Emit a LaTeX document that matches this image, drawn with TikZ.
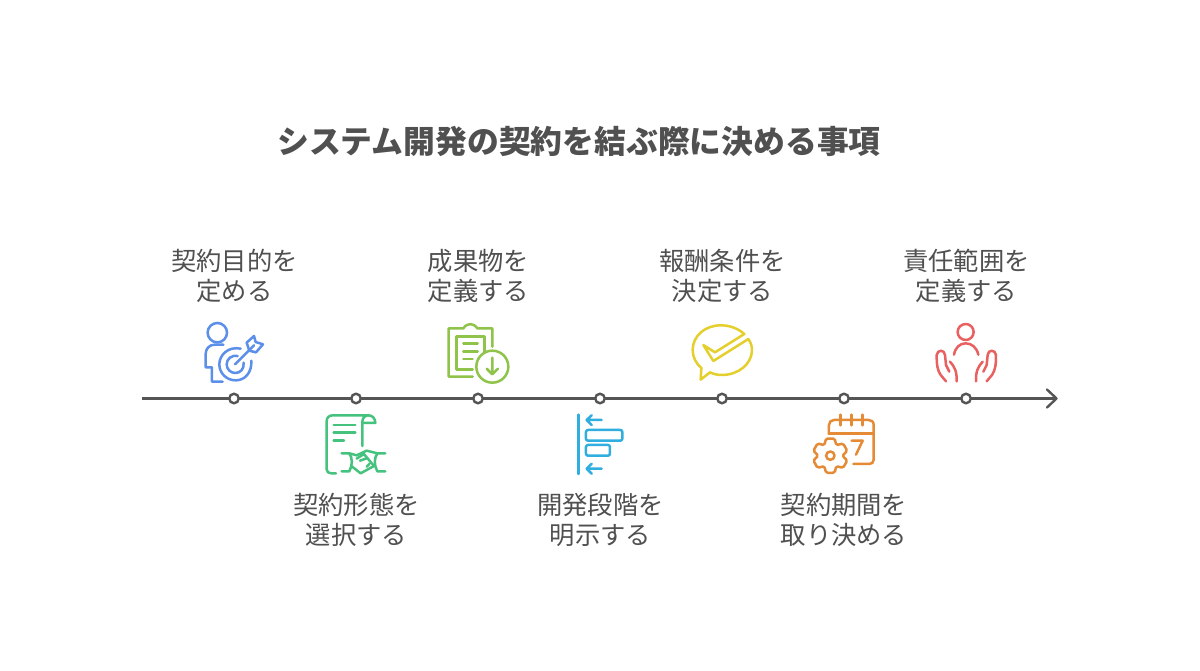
\documentclass[tikz,border=0pt]{standalone}
\usepackage{fontspec}
\newfontfamily\cjk{Noto Sans CJK JP}
\definecolor{txt}{HTML}{505050}
\definecolor{axis}{HTML}{555555}
\definecolor{cblue}{HTML}{5B8FEA}
\definecolor{cgreen}{HTML}{46C27F}
\definecolor{clime}{HTML}{8FC34A}
\definecolor{csky}{HTML}{2FAEDF}
\definecolor{cyel}{HTML}{E5CF2C}
\definecolor{corange}{HTML}{E58A35}
\definecolor{cred}{HTML}{E8605F}
\tikzset{
 lbl/.style={font=\cjk\fontsize{25.3}{30}\selectfont,text=txt,align=center,inner sep=0pt},
 ttl/.style={font=\cjk\bfseries\fontsize{31.8}{38}\selectfont,text=txt,inner sep=0pt},
 dot/.style={circle,draw=axis,fill=white,line width=2.4pt,minimum size=9.5pt,inner sep=0pt},
 axisline/.style={draw=axis,line width=2.4pt},
 ico/.style={line width=2.5pt,line cap=round,line join=round},
}
\begin{document}
\begin{tikzpicture}[x=1pt,y=-1pt]
\useasboundingbox[fill=white] (0,0) rectangle (1200,670);
\node[ttl] (title) at (579,141) {システム開発の契約を結ぶ際に決める事項};
\coordinate (start) at (142,398.5);
\coordinate (end) at (1056,398.5);
\draw[axisline] (start) -- (end);
\draw[axisline,line cap=round,line join=round] (1047,389.5) -- (1056.5,398.5) -- (1047,407.5);
\foreach \n/\x in {a/234,b/356,c/478,d/600,e/722,f/844,g/966}
  \node[dot] (\n) at (\x,398.5) {};
\node[lbl] (la) at (234.5,276) {契約目的を\\定める};
\node[lbl] (lc) at (478.5,276) {成果物を\\定義する};
\node[lbl] (le) at (722.5,276) {報酬条件を\\決定する};
\node[lbl] (lg) at (966.5,276) {責任範囲を\\定義する};
\node[lbl] (lb) at (356.5,520) {契約形態を\\選択する};
\node[lbl] (ld) at (600.5,520) {開発段階を\\明示する};
\node[lbl] (lf) at (844,520) {契約期間を\\取り決める};
% icon 1 : person with target
\begin{scope}[shift={(190,310)},x=0.3333pt,y=-0.3333pt,ico,draw=cblue]
\draw (82,68) circle[radius=9.7pt];
\draw (100,104) -- (74,104) .. controls (58,104) and (47,116) .. (47,132) -- (47,172) -- (66,172) -- (66,215) -- (98,215);
\draw (152,116) .. controls (115,108) and (88,135) .. (88,163) .. controls (88,190) and (110,211) .. (137,211) .. controls (165,211) and (186,188) .. (184,152);
\draw (143,138) .. controls (125,134) and (110,147) .. (110,163) .. controls (110,178) and (122,189) .. (136,189) .. controls (150,189) and (163,178) .. (161,158);
\draw (135,163) -- (192,106);
\draw (178,122) -- (170,98) -- (192,78) -- (197,96) -- (219,103) -- (198,127) -- (178,122);
% icon 2 : scroll with handshake
\draw[cgreen] (517,408) -- (517,336) .. controls (517,322) and (527,316) .. (535,316) -- (428,316) .. controls (416,316) and (410,324) .. (410,334) -- (410,478) .. controls (410,486) and (416,490) .. (424,490) -- (438,490);
\draw[cgreen] (535,316) .. controls (548,316) and (556,326) .. (556,339) -- (520,339);
\draw[cgreen] (431,345) -- (496,345) (431,368) -- (496,368) (431,391) -- (462,391);
\draw[cgreen] (455,430) -- (478,430) .. controls (488,445) and (488,465) .. (478,484) -- (455,484);
\draw[cgreen] (586,430) -- (562,430) .. controls (552,445) and (552,465) .. (562,484) -- (586,484);
\draw[cgreen] (478,430) -- (500,436) -- (530,422) -- (562,430);
\draw[cgreen] (484,468) -- (512,490) -- (552,468);
\draw[cgreen] (500,446) -- (522,432) -- (552,468) (510,452) -- (530,445) (530,470) -- (538,462);
\end{scope}
% icon 3 : clipboard with download ; icon 4 : aligned bars
\begin{scope}[shift={(430,310)},x=0.3333pt,y=-0.3333pt,ico]
\draw[clime] (187,110) -- (187,55) -- (142,55) .. controls (130,38) and (112,38) .. (100,55) -- (56,55) -- (56,200) -- (128,200);
\draw[clime] (163,125) -- (163,80) -- (80,80) -- (80,178) -- (128,178);
\draw[clime] (100,100) -- (143,100) (100,124) -- (143,124) (100,147) -- (128,147);
\draw[clime] (187,170) circle[radius=16pt];
\draw[clime] (187,143) -- (187,192) (170,176) -- (187,193) -- (204,176);
\draw[csky] (445,314) -- (445,492);
\draw[csky] (515,330) -- (470,330) (485,316) -- (470,330) -- (485,345);
\draw[csky,rounded corners=2pt] (468,360) rectangle (577,392);
\draw[csky,rounded corners=2pt] (468,405) rectangle (540,437);
\draw[csky] (515,476) -- (470,476) (485,461) -- (470,476) -- (485,491);
\end{scope}
% icon 5 : speech bubble ; icon 6 : gear and calendar
\begin{scope}[shift={(680,310)},x=0.3333pt,y=-0.3333pt,ico]
\draw[cyel] (193,72) .. controls (170,52) and (145,46) .. (122,46) .. controls (75,46) and (38,78) .. (38,120) .. controls (38,142) and (48,160) .. (64,174) -- (62,209) -- (90,187) .. controls (100,192) and (112,195) .. (125,195) .. controls (175,195) and (216,162) .. (216,120) .. controls (216,108) and (212,97) .. (205,87);
\draw[cyel] (70,105) -- (105,127) -- (193,72) (70,105) -- (100,153) -- (205,87);
\draw[corange] (520,462) -- (568,462) .. controls (576,462) and (581,457) .. (581,449) -- (581,345) .. controls (581,335) and (575,330) .. (566,330) -- (462,330) .. controls (453,330) and (447,336) .. (447,345) -- (447,372);
\draw[corange] (447,370) -- (581,370);
\draw[corange] (482,314) -- (482,346) (515,314) -- (515,346) (548,314) -- (548,346);
\draw[corange] (515,392) -- (548,392) -- (528,434);
\begin{scope}[shift={(451,437)},rounded corners=1.6pt]
\draw[corange] (76:53) -- (104:53) -- (120:36) -- (136:53) -- (164:53) -- (180:36) -- (196:53) -- (224:53) -- (240:36) -- (256:53) -- (284:53) -- (300:36) -- (316:53) -- (344:53) -- (0:36) -- (16:53) -- (44:53) -- (60:36) -- cycle;
\end{scope}
\draw[corange] (451,437) circle[radius=4.2pt];
\end{scope}
% icon 7 : person in hands
\begin{scope}[shift={(920,310)},x=0.3333pt,y=-0.3333pt,ico,draw=cred]
\draw (137,66) circle[radius=8pt];
\draw (102,134) .. controls (106,112) and (120,100) .. (137,100) .. controls (155,100) and (170,112) .. (175,134);
\draw (78,214) -- (62,195) .. controls (52,180) and (50,165) .. (50,135) .. controls (52,118) and (74,118) .. (75,135) -- (78,165) -- (88,185);
\draw (90,155) .. controls (104,170) and (111,185) .. (110,214);
\draw (200,214) -- (216,195) .. controls (226,180) and (228,165) .. (228,135) .. controls (226,118) and (204,118) .. (203,135) -- (200,165) -- (190,185);
\draw (188,155) .. controls (174,170) and (167,185) .. (168,214);
\end{scope}
\end{tikzpicture}
\end{document}
